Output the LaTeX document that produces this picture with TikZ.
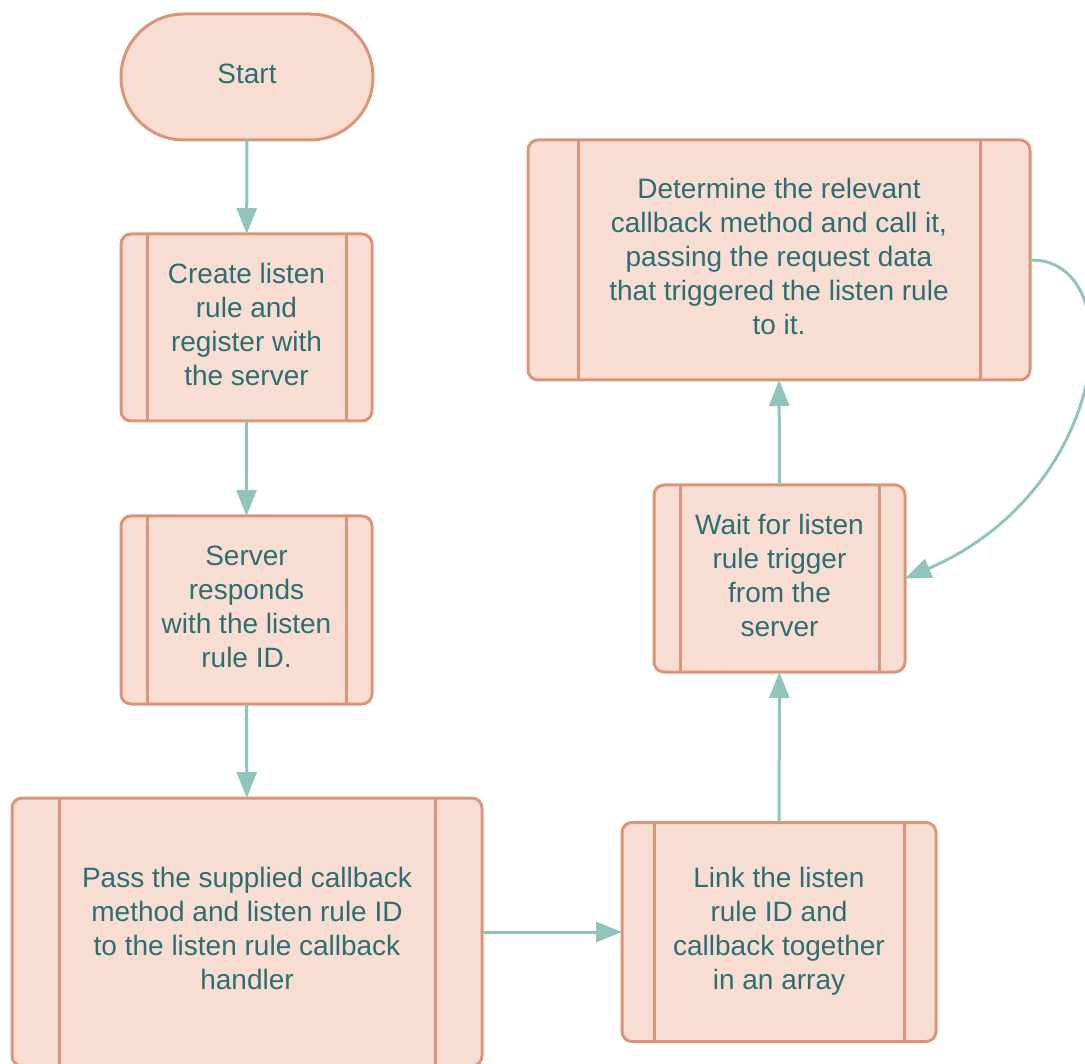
\documentclass[tikz,border=0pt]{standalone}
\usepackage{fontspec}
\setmainfont{Liberation Sans}
\usetikzlibrary{arrows.meta,calc}
\definecolor{boxfill}{HTML}{F8DDD2}
\definecolor{boxline}{HTML}{D9967A}
\definecolor{boxtext}{HTML}{2C6E73}
\definecolor{flowc}{HTML}{92C4BE}
\tikzset{
  base/.style={draw=boxline, fill=boxfill, line width=3pt, text=boxtext,
    font=\fontsize{28}{34}\selectfont, align=center, inner sep=0pt, outer sep=0pt,
    text depth=7pt},
  terminal/.style={base, rounded corners=62.9pt},
  proc/.style={base, rounded corners=10pt,
    path picture={
      \draw[boxline, line width=3pt]
        ([xshift=#1]path picture bounding box.north west) --
        ([xshift=#1]path picture bounding box.south west);
      \draw[boxline, line width=3pt]
        ([xshift=-#1]path picture bounding box.north east) --
        ([xshift=-#1]path picture bounding box.south east);
    }},
  flow/.style={draw=flowc, line width=3pt, -{Triangle[length=26pt,width=20pt]}}
}
\begin{document}
\begin{tikzpicture}[x=1pt,y=-1pt]
\useasboundingbox (0,0) rectangle (1085,1064);

% start terminal
\node[terminal, minimum width=252pt, minimum height=126pt] (start) at (247,77) {Start};

% left column of process steps
\node[proc=26pt, minimum width=251pt, minimum height=187pt] (create) at (246.5,327.5)
  {Create listen\\rule and\\register with\\the server};
\node[proc=26pt, minimum width=251pt, minimum height=188pt] (server) at (246.5,610)
  {Server\\responds\\with the listen\\rule ID.};
\node[proc=47pt, minimum width=470pt, minimum height=268pt] (pass) at (247,932)
  {Pass the supplied callback\\method and listen rule ID\\to the listen rule callback\\handler};

% right column of process steps
\node[proc=32pt, minimum width=314pt, minimum height=219pt] (link) at (779,932)
  {Link the listen\\rule ID and\\callback together\\in an array};
\node[proc=26pt, minimum width=251pt, minimum height=187pt] (wait) at (779.5,578.5)
  {Wait for listen\\rule trigger\\from the\\server};
\node[proc=50pt, minimum width=502pt, minimum height=240pt] (det) at (779,260)
  {Determine the relevant\\callback method and call it,\\passing the request data\\that triggered the listen rule\\to it.};

% connectors
\draw[flow] (start) -- (create);
\draw[flow] (create) -- (server);
\draw[flow] (server) -- (pass);
\draw[flow] (pass) -- (link);
\draw[flow] (link) -- (wait);
\draw[flow] (wait) -- (det);
\draw[flow] (det.east) .. controls (1132,258) and (1112,490) .. (wait.east);
\end{tikzpicture}
\end{document}
